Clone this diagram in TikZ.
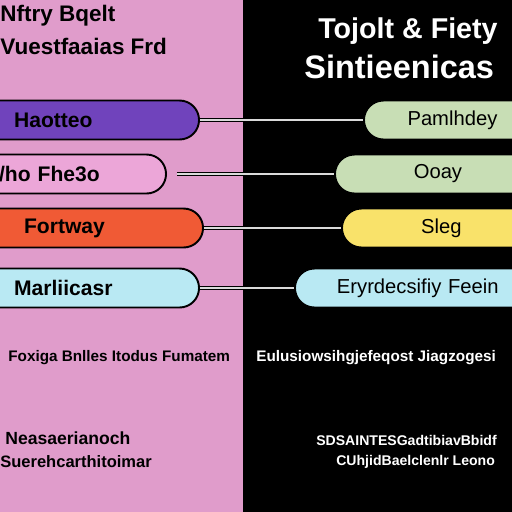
\documentclass[tikz,border=0pt]{standalone}
\usepackage{fontspec}
\setmainfont{Liberation Sans}
\setsansfont{Liberation Sans}
\usepackage{xcolor}
\usepackage{tikz}
\usetikzlibrary{positioning, calc}
\definecolor{panelpink}{HTML}{E09CCB}
\definecolor{pillviolet}{HTML}{7043BC}
\definecolor{pillrose}{HTML}{ECA6D8}
\definecolor{pillorange}{HTML}{F05A35}
\definecolor{pillcyan}{HTML}{B9E9F3}
\definecolor{pillsage}{HTML}{C8DEB5}
\definecolor{pillyellow}{HTML}{F9E26A}
\definecolor{wireglow}{HTML}{DADADA}
\tikzset{
  pill/.style={fill=#1, draw=black, line width=1.1pt, rounded corners=0.39cm,
               minimum height=0.78cm, font=\fontsize{11.5}{13}\selectfont\sffamily, text=black},
  pill/.default=pillcyan,
  pillL/.style={pill=#1, anchor=east, align=left, font=\fontsize{12}{14}\selectfont\sffamily\bfseries},
  wire/.style={draw=black, line width=0.7pt, double=wireglow, double distance=1.4pt},
  headL/.style={font=\fontsize{12.8}{14}\selectfont\sffamily\bfseries, text=black, anchor=west, inner sep=0pt},
  headR/.style={font=\fontsize{#1}{19}\selectfont\sffamily\bfseries, text=white, anchor=west, inner sep=0pt},
  headR/.default=17,
  small/.style={font=\fontsize{8.7}{10}\selectfont\sffamily\bfseries, anchor=west, inner sep=0pt},
  foot/.style={font=\fontsize{#1}{11}\selectfont\sffamily\bfseries, anchor=west, inner sep=0pt},
  foot/.default=9,
}
\begin{document}
\begin{tikzpicture}[x=0.02cm, y=-0.02cm]
  \useasboundingbox (0,0) rectangle (512,512);
  \clip (0,0) rectangle (512,512);
  % two panels
  \fill[panelpink] (0,0) rectangle (243,512);
  \fill[black] (243,0) rectangle (512,512);
  % headings
  \node[headL] (tl1) at (0,16) {Nftry Bqelt};
  \node[headL] (tl2) at (0,46) {Vuestfaaias Frd};
  \node[headR=16.3] (tr1) at (318,31) {Tojolt \& Fiety};
  \node[headR=18.5] (tr2) at (304,67) {Sintieenicas};
  % left pills
  \node[pillL=pillviolet, text width=3.0cm, inner xsep=0.7cm] (l1) at (200,120) {Haotteo};
  \node[pillL=pillrose, text width=2.94cm, inner xsep=0.4cm] (l2) at (167,174) {/ho Fhe3o};
  \node[pillL=pillorange, text width=2.68cm, inner xsep=0.9cm] (l3) at (204,228) {Fortway};
  \node[pillL=pillcyan, text width=3.0cm, inner xsep=0.7cm] (l4) at (200,288) {Marliicasr};
  % right pills
  \node[pill=pillsage, anchor=west, minimum width=3.54cm] (r1) at (363,120) {Pamlhdey};
  \node[pill=pillsage, anchor=west, minimum width=4.12cm] (r2) at (334,174) {Ooay};
  \node[pill=pillyellow, anchor=west, minimum width=3.98cm] (r3) at (341,228) {Sleg};
  \node[pill=pillcyan, anchor=west, minimum width=4.92cm, text width=4.0cm, inner xsep=0.84cm, align=left] (r4) at (294,288) {Eryrdecsifiy Feein};
  % wires
  \draw[wire] (l1.east) -- (r1.west);
  \draw[wire, shorten <=10*0.02cm] (l2.east) -- (r2.west);
  \draw[wire] (l3.east) -- (r3.west);
  \draw[wire] (l4.east) -- (r4.west);
  % notes
  \node[small, text=black] (nl) at (8,358) {Foxiga Bnlles Itodus Fumatem};
  \node[small, text=white] (nr) at (256,358) {Eulusiowsihgjefeqost Jiagzogesi};
  \node[foot=10, text=black] (fl1) at (5,438) {Neasaerianoch};
  \node[foot=9.4, text=black] (fl2) at (0,462) {Suerehcarthitoimar};
  \node[foot=8, text=white] (fr1) at (316,440) {SDSAINTESGadtibiavBbidf};
  \node[foot=8, text=white] (fr2) at (336,462) {CUhjidBaelclenlr Leono};
\end{tikzpicture}
\end{document}
